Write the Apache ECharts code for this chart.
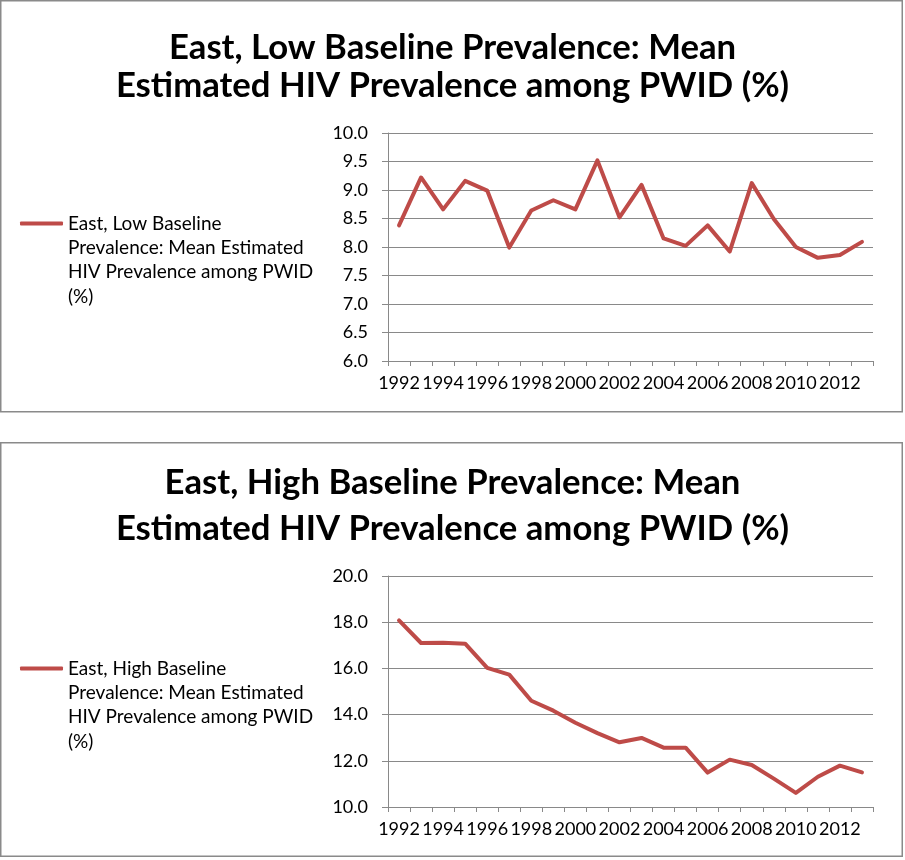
<!DOCTYPE html>
<html>
<head>
<meta charset="utf-8">
<script src="https://cdn.jsdelivr.net/npm/echarts@6/dist/echarts.min.js"></script>
<style>
  html, body { margin: 0; padding: 0; background: #ffffff; }
  #chart { width: 905px; height: 860px; }
</style>
</head>
<body>
<div id="chart"></div>
<script>
// ---- data ----
const years = ['1992','1993','1994','1995','1996','1997','1998','1999','2000','2001','2002',
               '2003','2004','2005','2006','2007','2008','2009','2010','2011','2012','2013'];
const lowName = 'East, Low Baseline Prevalence: Mean Estimated HIV Prevalence among PWID (%)';
const highName = 'East, High Baseline Prevalence: Mean Estimated HIV Prevalence among PWID (%)';
const lowValues = [8.38, 9.22, 8.66, 9.16, 8.99, 7.99, 8.64, 8.82, 8.66, 9.52, 8.52,
                   9.09, 8.15, 8.02, 8.38, 7.92, 9.12, 8.49, 8.00, 7.81, 7.86, 8.09];
const highValues = [18.08, 17.10, 17.11, 17.07, 16.02, 15.73, 14.60, 14.17, 13.65, 13.20, 12.80,
                    12.99, 12.57, 12.57, 11.49, 12.05, 11.82, 11.23, 10.61, 11.31, 11.79, 11.50];
const lowTitle = 'East, Low Baseline Prevalence: Mean\nEstimated HIV Prevalence among PWID (%)';
const highTitle = 'East, High Baseline Prevalence: Mean\nEstimated HIV Prevalence among PWID (%)';
const lowLegendLines = ['East, Low Baseline', 'Prevalence: Mean Estimated', 'HIV Prevalence among PWID', '(%)'];
const highLegendLines = ['East, High Baseline', 'Prevalence: Mean Estimated', 'HIV Prevalence among PWID', '(%)'];
const lowAxis = { min: 6, max: 10, interval: 0.5 };
const highAxis = { min: 10, max: 20, interval: 2 };

// ---- styles ----
const FONT = 'Lato, "Open Sans", sans-serif';
const GRAY = '#898989';
const RED = '#BE4B48';
const LEG_LH = 24.4;

function yAxis(idx, ax) {
  return {
    type: 'value', gridIndex: idx, min: ax.min, max: ax.max, interval: ax.interval,
    axisLine: { show: true, lineStyle: { color: GRAY, width: 1 } },
    axisTick: { show: true, length: 6, lineStyle: { color: GRAY } },
    splitLine: { show: true, lineStyle: { color: GRAY, width: 1 } },
    axisLabel: { margin: 20, color: '#000', fontFamily: FONT, fontSize: 18,
                 formatter: v => v.toFixed(1) }
  };
}
function xAxis(idx) {
  return {
    type: 'category', gridIndex: idx, data: years, boundaryGap: true,
    axisLine: { show: true, lineStyle: { color: GRAY, width: 1 } },
    axisTick: { show: true, length: 5, interval: 0, lineStyle: { color: GRAY } },
    axisLabel: { interval: 1, margin: 13, color: '#000', fontFamily: FONT, fontSize: 18 }
  };
}
function legend(name, lines, iconY) {
  // blank lines before the text keep the first real line level with the icon
  const n = lines.length;
  const text = '\n'.repeat(n - 1) + lines.join('\n');
  return {
    data: [name], left: 20, top: iconY - (2 * n - 1) * LEG_LH / 2, padding: 0, orient: 'vertical',
    icon: 'roundRect', itemWidth: 43, itemHeight: 4,
    itemStyle: { color: RED },
    formatter: () => text,
    textStyle: { fontFamily: FONT, fontSize: 19, color: '#000', lineHeight: LEG_LH },
    selectedMode: false
  };
}

const chart = echarts.init(document.getElementById('chart'), null, { renderer: 'canvas' });
chart.setOption({
  animation: false,
  backgroundColor: '#ffffff',
  graphic: [
    { type: 'rect', shape: { x: 0.75, y: 0.75, width: 901.5, height: 411 },
      style: { fill: 'none', stroke: '#8a8a8a', lineWidth: 1.5 }, silent: true },
    { type: 'rect', shape: { x: 0.75, y: 442.75, width: 901.5, height: 413.5 },
      style: { fill: 'none', stroke: '#8a8a8a', lineWidth: 1.5 }, silent: true }
  ],
  title: [
    { text: lowTitle, left: 'center', top: 24,
      textStyle: { fontFamily: FONT, fontWeight: 'bold', fontSize: 34.7, lineHeight: 38, color: '#000' } },
    { text: highTitle, left: 'center', top: 455,
      textStyle: { fontFamily: FONT, fontWeight: 'bold', fontSize: 34.7, lineHeight: 46, color: '#000' } }
  ],
  legend: [
    legend(lowName, lowLegendLines, 223.5),
    legend(highName, highLegendLines, 668.5)
  ],
  grid: [
    { left: 388, right: 32, top: 133, height: 228 },
    { left: 388, right: 32, top: 576, height: 231 }
  ],
  xAxis: [xAxis(0), xAxis(1)],
  yAxis: [yAxis(0, lowAxis), yAxis(1, highAxis)],
  series: [
    { name: lowName, type: 'line', xAxisIndex: 0, yAxisIndex: 0, data: lowValues,
      symbol: 'none', itemStyle: { color: RED },
      lineStyle: { color: RED, width: 4, cap: 'round', join: 'round' } },
    { name: highName, type: 'line', xAxisIndex: 1, yAxisIndex: 1, data: highValues,
      symbol: 'none', itemStyle: { color: RED },
      lineStyle: { color: RED, width: 4, cap: 'round', join: 'round' } }
  ]
});
</script>
</body>
</html>
